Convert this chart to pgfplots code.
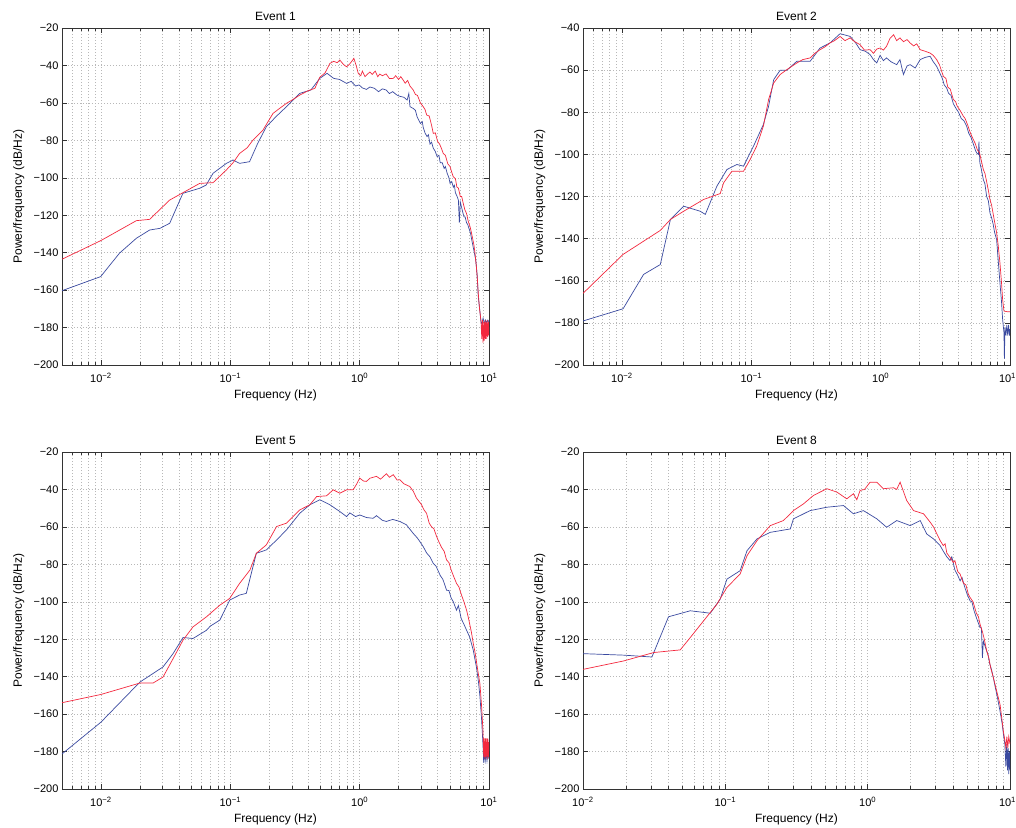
\documentclass[border=0pt]{standalone}
\usepackage{pgfplots}
\pgfplotsset{compat=1.18}
\usepackage{fontspec}
\setmainfont{Liberation Sans}
\definecolor{pred}{RGB}{243,40,62}
\definecolor{pblue}{RGB}{58,74,160}
\pgfplotsset{
  every axis/.append style={
    scale only axis, width=427pt, height=337pt,
    xmode=log, xmin=0.005, xmax=10, ymin=-200, ymax=-20,
    ytick={-200,-180,...,-20},
    yticklabels={−200,−180,−160,−140,−120,−100,−80,−60,−40,−20},
    xtick={0.01,0.1,1,10},
    xticklabels={10\textsuperscript{−2},10\textsuperscript{−1},10\textsuperscript{0},10\textsuperscript{1}},
    minor xtick={0.006,0.007,0.008,0.009,0.02,0.03,0.04,0.05,0.06,0.07,0.08,0.09,0.2,0.3,0.4,0.5,0.6,0.7,0.8,0.9,2,3,4,5,6,7,8,9},
    xmajorgrids, xminorgrids, ymajorgrids,
    grid style={dash pattern=on 0.7pt off 2.3pt, black!28, line width=0.5pt},
    tick align=inside, major tick length=5pt, minor tick length=3pt,
    tick style={black!80, line width=0.5pt},
    axis line style={black!80, line width=0.6pt},
    tick label style={font=\fontsize{11}{13}\selectfont},
    xticklabel style={yshift=-5pt},
    label style={font=\fontsize{12}{14}\selectfont},
    title style={font=\fontsize{12}{14}\selectfont, yshift=-2pt},
    xlabel={Frequency (Hz)}, ylabel={Power/frequency (dB/Hz)},
    xlabel style={at={(axis description cs:0.5,-0.062)}, anchor=north},
    ylabel style={at={(axis description cs:-0.080,0.5)}, anchor=south},
  },
}
\tikzset{
  rl/.style={pred, line width=0.7pt},
  bl/.style={pblue, line width=0.7pt},
}
\begin{document}
\begin{tikzpicture}
\path[use as bounding box] (0,0) rectangle (1016pt,-827pt);
% ---------------- Event 1
\begin{axis}[at={(62pt,-28pt)}, anchor=north west, title={Event 1}]
\addplot[bl] coordinates {(0.005,-160.3) (0.00995,-152.8) (0.0139,-140.3) (0.0188,-132.3) (0.0238,-127.9) (0.0286,-127) (0.034,-124.3) (0.043,-108.3) (0.058,-105.6) (0.065,-103.9) (0.0736,-97.6) (0.0933,-92.3) (0.105,-90.5) (0.118,-92.3) (0.141,-91.4) (0.163,-81.6) (0.19,-72.7) (0.226,-67.3) (0.272,-62) (0.345,-54.9) (0.42,-53.1) (0.492,-46.9) (0.56,-44.2) (0.63,-46.9) (0.7,-47.5) (0.793,-49.6) (0.86,-48.5) (0.93,-51) (0.99,-50.4) (1.05,-52) (1.13,-52.8) (1.2,-51.5) (1.3,-52.2) (1.4,-54) (1.5,-52.5) (1.6,-53.1) (1.7,-55) (1.8,-54) (1.94,-55.8) (2.05,-56.5) (2.2,-57) (2.33,-58.5) (2.4,-55) (2.45,-62) (2.6,-63) (2.7,-64) (2.78,-67.4) (2.95,-71) (3.05,-70) (3.1,-73) (3.2,-76) (3.32,-78) (3.4,-77) (3.5,-82) (3.6,-81) (3.7,-84) (3.85,-86) (3.97,-88.7) (4.1,-88) (4.2,-92) (4.35,-92) (4.5,-95) (4.6,-94) (4.75,-97.6) (4.9,-100) (5.0,-103) (5.15,-102) (5.3,-105) (5.4,-104) (5.5,-108) (5.67,-110) (5.8,-112) (5.9,-124) (6.0,-113) (6.1,-115) (6.25,-118) (6.4,-120.8) (6.55,-121) (6.7,-124) (6.85,-125) (7.0,-127) (7.2,-129.7) (7.35,-133) (7.5,-136) (7.7,-140) (7.9,-143.9) (8.1,-152) (8.26,-163.5) (8.5,-171) (8.66,-176.8) (8.8,-178) (9.0,-175) (9.2,-178) (9.4,-176) (9.6,-177.5) (9.8,-176) (10,-177)};
\addplot[rl] coordinates {(0.005,-143.5) (0.00995,-133.6) (0.0188,-122.9) (0.0238,-122.2) (0.034,-111.9) (0.058,-103.0) (0.0736,-102.6) (0.0933,-95.8) (0.105,-92.0) (0.118,-87.0) (0.135,-84) (0.150,-79.8) (0.179,-74.5) (0.214,-65.6) (0.24,-63) (0.272,-60.2) (0.30,-58.5) (0.345,-55.8) (0.40,-53.5) (0.451,-52.2) (0.492,-46.3) (0.54,-44) (0.589,-38.9) (0.63,-37.8) (0.67,-38.5) (0.703,-37.1) (0.75,-39.5) (0.793,-40.7) (0.83,-39.5) (0.865,-38.0) (0.902,-36.2) (0.94,-40) (0.975,-44.2) (1.02,-45.5) (1.05,-43.0) (1.1,-46) (1.13,-45.1) (1.2,-43.5) (1.25,-44.8) (1.32,-43) (1.38,-46) (1.43,-44.6) (1.5,-45.5) (1.6,-44.5) (1.7,-47) (1.82,-46.9) (1.9,-45.5) (2.0,-47.5) (2.08,-46) (2.17,-47.8) (2.25,-49.5) (2.35,-48) (2.45,-51) (2.59,-53.0) (2.7,-55.5) (2.8,-56) (2.95,-60) (3.10,-62.0) (3.2,-63.5) (3.3,-66.5) (3.45,-67) (3.6,-72) (3.71,-76.3) (3.85,-76) (4.0,-80.5) (4.15,-82) (4.3,-84.5) (4.43,-87.0) (4.6,-88) (4.8,-92.5) (5.0,-94) (5.15,-97) (5.29,-99.4) (5.5,-100.5) (5.65,-105) (5.8,-105.5) (6.0,-110) (6.15,-110) (6.32,-113.6) (6.5,-117) (6.7,-119) (6.9,-123) (7.13,-126.0) (7.3,-129) (7.5,-133) (7.65,-136) (7.79,-140.0) (8.0,-148) (8.15,-155) (8.26,-161.7) (8.45,-170) (8.66,-176.0) (8.8,-186) (8.9,-176) (9.0,-188) (9.1,-177) (9.2,-187) (9.3,-176) (9.4,-186) (9.5,-177) (9.6,-186) (9.7,-176) (9.8,-185) (9.9,-177) (10,-184)};
\end{axis}
% ---------------- Event 2
\begin{axis}[at={(583pt,-28pt)}, anchor=north west, title={Event 2}, ymax=-40, ytick={-200,-180,...,-40},
  yticklabels={−200,−180,−160,−140,−120,−100,−80,−60,−40},
  xticklabels={10\textsuperscript{−2},10\textsuperscript{−1},10\textsuperscript{0},10\textsuperscript{1}\hspace*{5pt}}]
\addplot[bl] coordinates {(0.005,-179.1) (0.0102,-173.3) (0.0147,-157) (0.0198,-152.3) (0.0237,-130.9) (0.030,-124.6) (0.0403,-127) (0.0441,-128.5) (0.0542,-115.1) (0.0648,-107.2) (0.0773,-104.8) (0.0871,-105.6) (0.104,-96.1) (0.124,-85.8) (0.136,-77.2) (0.149,-64.5) (0.167,-60.1) (0.188,-60.1) (0.225,-55.8) (0.285,-55.8) (0.340,-49.5) (0.406,-47.1) (0.486,-42.7) (0.581,-44) (0.64,-47) (0.693,-50.3) (0.76,-51) (0.828,-52.6) (0.88,-55) (0.933,-56.6) (0.99,-53) (1.05,-55.5) (1.11,-54.2) (1.2,-56) (1.33,-57.4) (1.41,-55) (1.50,-62.1) (1.6,-58) (1.69,-57.4) (1.85,-59) (2.02,-55) (2.2,-54) (2.41,-53.4) (2.55,-56) (2.71,-58.2) (2.85,-61) (3.0,-64) (3.1,-67) (3.24,-68.5) (3.35,-71) (3.5,-72) (3.65,-76) (3.87,-78.7) (4.0,-80) (4.2,-83) (4.4,-84) (4.62,-86.6) (4.8,-90) (5.0,-92) (5.2,-95) (5.4,-98) (5.52,-99.3) (5.7,-100) (5.75,-94) (5.85,-104) (6.0,-107) (6.22,-112) (6.4,-114) (6.6,-120) (6.8,-122) (7.0,-127.8) (7.2,-130) (7.4,-133) (7.6,-137) (7.88,-140.4) (8.1,-150) (8.36,-161) (8.6,-170) (8.77,-178.3) (8.98,-184.7) (9.05,-197) (9.15,-182) (9.3,-186) (9.45,-181) (9.6,-186) (9.75,-181) (9.9,-186) (10,-183)};
\addplot[rl] coordinates {(0.005,-166) (0.0102,-147.5) (0.0198,-136.1) (0.0237,-130.9) (0.030,-127) (0.0428,-121.4) (0.0575,-118.6) (0.0611,-113.5) (0.0708,-108) (0.0871,-108) (0.098,-102.4) (0.110,-96.1) (0.124,-86.6) (0.136,-74) (0.149,-66.1) (0.167,-62.1) (0.188,-59.8) (0.225,-56.6) (0.25,-55) (0.285,-54.2) (0.31,-52) (0.340,-50.3) (0.37,-49) (0.406,-47.1) (0.44,-46) (0.486,-44) (0.53,-46) (0.581,-44.7) (0.63,-46.5) (0.693,-47.9) (0.75,-50.5) (0.828,-50.3) (0.88,-52) (0.933,-50) (0.991,-49.5) (1.05,-50.5) (1.11,-48.7) (1.18,-45) (1.26,-43.2) (1.33,-46) (1.41,-44.7) (1.5,-46.5) (1.6,-45.5) (1.69,-47.1) (1.8,-48.5) (1.9,-47.5) (2.02,-50.3) (2.2,-51) (2.41,-51.9) (2.55,-53) (2.71,-55) (2.85,-57.5) (3.05,-62.9) (3.2,-64) (3.3,-68) (3.45,-69) (3.65,-74) (3.8,-75) (3.9,-77) (4.1,-79) (4.36,-81.9) (4.5,-83) (4.7,-86) (4.95,-90) (5.21,-93) (5.4,-95) (5.6,-98) (5.8,-99) (6.0,-103) (6.22,-107.2) (6.4,-109) (6.6,-113) (6.8,-117) (7.0,-121.4) (7.2,-124) (7.4,-128) (7.6,-132) (7.88,-137.2) (8.1,-143) (8.36,-151.5) (8.6,-161) (8.77,-168.9) (8.98,-174.4) (9.5,-174.7) (10,-174.7)};
\end{axis}
% ---------------- Event 5
\begin{axis}[at={(62pt,-452pt)}, anchor=north west, title={Event 5}]
\addplot[bl] coordinates {(0.005,-181.3) (0.01,-164.3) (0.020,-142.9) (0.0302,-134.8) (0.0361,-127.7) (0.0431,-119.1) (0.0515,-119.6) (0.0655,-115.2) (0.07,-113) (0.083,-109.8) (0.099,-99.1) (0.118,-96.4) (0.133,-95.5) (0.159,-74.1) (0.190,-72.3) (0.228,-67) (0.272,-61.6) (0.345,-52.7) (0.412,-48.2) (0.492,-45.5) (0.589,-48.2) (0.703,-51.8) (0.793,-54.5) (0.84,-52.5) (0.93,-54.5) (1.0,-53.6) (1.13,-55) (1.27,-55.4) (1.35,-54) (1.5,-56.5) (1.61,-57.1) (1.8,-56) (2.05,-57.1) (2.30,-58.9) (2.59,-63.4) (2.8,-66) (3.10,-70.5) (3.3,-74) (3.5,-76) (3.71,-79.5) (3.9,-81) (4.2,-86) (4.4,-88) (4.70,-93.8) (4.9,-94) (5.1,-98) (5.3,-100) (5.5,-103) (5.61,-104.5) (5.8,-102) (6.1,-109) (6.4,-112) (6.71,-115.2) (6.9,-117) (7.1,-119) (7.3,-122) (7.56,-125.9) (7.8,-131) (8.0,-135) (8.3,-143) (8.51,-150.6) (8.75,-162) (8.98,-175.9) (9.1,-186) (9.2,-180) (9.35,-185) (9.5,-181) (9.65,-185) (9.8,-181) (10,-184)};
\addplot[rl] coordinates {(0.005,-153.9) (0.01,-149.5) (0.020,-143.4) (0.0253,-143.4) (0.0302,-140.2) (0.0361,-130.4) (0.0431,-120.5) (0.0515,-113.4) (0.0655,-108) (0.083,-101.8) (0.099,-98.2) (0.118,-90.2) (0.142,-83) (0.159,-74.1) (0.190,-69.6) (0.228,-59.8) (0.272,-58) (0.30,-55) (0.345,-50.9) (0.412,-48.2) (0.465,-43.8) (0.555,-43.4) (0.624,-40.2) (0.703,-42) (0.793,-40.2) (0.891,-40.2) (0.95,-37) (1.0,-33.9) (1.07,-35.5) (1.13,-35.7) (1.2,-34) (1.35,-33) (1.45,-34.5) (1.61,-31.6) (1.7,-33.5) (1.82,-32.1) (1.95,-35) (2.05,-34.8) (2.2,-37) (2.44,-38.4) (2.6,-41) (2.75,-44.6) (3.0,-48) (3.15,-51) (3.29,-52.7) (3.45,-58) (3.6,-60) (3.75,-61) (3.94,-65.2) (4.1,-68) (4.3,-71) (4.5,-73) (4.70,-77.7) (4.9,-79) (5.1,-83) (5.3,-86) (5.61,-90.2) (5.85,-92) (6.1,-96) (6.4,-100) (6.71,-104.5) (6.9,-108) (7.1,-112) (7.3,-116) (7.56,-122.3) (7.8,-127) (8.0,-132) (8.25,-138) (8.51,-143.8) (8.75,-155) (8.98,-168.8) (9.1,-183) (9.2,-173) (9.3,-184) (9.4,-173) (9.5,-183) (9.6,-173) (9.7,-184) (9.8,-173) (9.9,-183) (10,-175)};
\end{axis}
% ---------------- Event 8
\begin{axis}[at={(583pt,-452pt)}, anchor=north west, title={Event 8}, xmin=0.01,
  xticklabels={10\textsuperscript{−2},10\textsuperscript{−1},10\textsuperscript{0},10\textsuperscript{1}\hspace*{5pt}}]
\addplot[bl] coordinates {(0.01,-127.7) (0.0193,-128.5) (0.0305,-129.5) (0.0399,-108) (0.0567,-104.8) (0.0784,-106.1) (0.092,-98.6) (0.1026,-87.9) (0.127,-83.4) (0.142,-72.7) (0.167,-66.4) (0.207,-62.9) (0.286,-61.1) (0.301,-55.7) (0.394,-51.3) (0.516,-49.5) (0.676,-48.6) (0.794,-53) (0.933,-51.3) (1.16,-55.7) (1.36,-60.2) (1.60,-56.6) (1.99,-59.3) (2.34,-56.6) (2.60,-63.8) (2.90,-66.4) (3.23,-70) (3.4,-73) (3.6,-76) (3.79,-78) (3.9,-76) (4.1,-83) (4.3,-86) (4.46,-88.8) (4.6,-87) (4.8,-92) (5.0,-96) (5.24,-99.5) (5.4,-100) (5.6,-105) (5.9,-110) (6.16,-113.8) (6.3,-114) (6.4,-130) (6.5,-121) (6.7,-124) (6.86,-126.3) (7.0,-128) (7.2,-133) (7.4,-136) (7.64,-140.5) (7.9,-146) (8.2,-152) (8.51,-158.4) (8.8,-165) (9.0,-171) (9.2,-176) (9.35,-188) (9.48,-176) (9.6,-190) (9.7,-178) (9.8,-192) (9.9,-180) (10,-190)};
\addplot[rl] coordinates {(0.01,-136.1) (0.0193,-131.6) (0.0314,-127.1) (0.0482,-125.7) (0.0567,-119.1) (0.0703,-110.2) (0.0873,-101.3) (0.1026,-92.3) (0.127,-85.2) (0.142,-75.4) (0.167,-67.3) (0.207,-59.3) (0.256,-56.6) (0.301,-51.3) (0.354,-47.7) (0.416,-43.2) (0.516,-39.6) (0.607,-41.4) (0.713,-45) (0.794,-42.3) (0.839,-45.5) (0.885,-40.5) (0.95,-40) (1.04,-36.1) (1.16,-36.1) (1.29,-39.6) (1.52,-39.1) (1.6,-40) (1.69,-36.1) (1.88,-45.9) (2.10,-51.3) (2.47,-53) (2.75,-57.5) (2.9,-60) (3.23,-67.3) (3.4,-70) (3.5,-69) (3.6,-74) (3.79,-76.3) (4.0,-79) (4.1,-78) (4.3,-84) (4.46,-85.2) (4.7,-90) (4.9,-91) (5.1,-96) (5.24,-97.7) (5.5,-100) (5.8,-106) (6.0,-108) (6.16,-112) (6.4,-116) (6.6,-120) (6.86,-126.3) (7.1,-130) (7.3,-135) (7.64,-140.5) (7.9,-145) (8.2,-150) (8.51,-154.8) (8.75,-162) (8.98,-169.1) (9.2,-174) (9.35,-178) (9.5,-172) (9.65,-178) (9.8,-172) (10,-176)};
\end{axis}
\end{tikzpicture}
\end{document}
